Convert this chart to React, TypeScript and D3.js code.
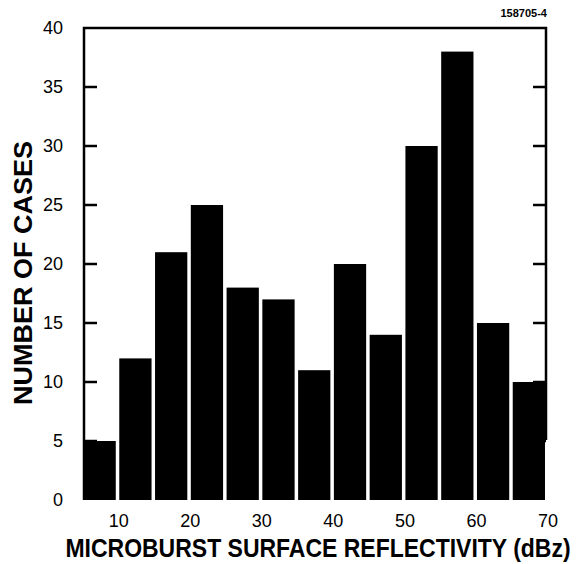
import React from "react";
import * as d3 from "d3";

const binStarts = [5, 10, 15, 20, 25, 30, 35, 40, 45, 50, 55, 60, 65];
const counts = [5, 12, 21, 25, 18, 17, 11, 20, 14, 30, 38, 15, 10];
const xTicks = [10, 20, 30, 40, 50, 60, 70];
const yTicks = [0, 5, 10, 15, 20, 25, 30, 35, 40];
const binWidth = 5;

const W = 580;
const H = 564;
const left = 84;
const right = 546;
const top = 28;
const bottom = 500;
const font = "'Liberation Sans', Arial, Helvetica, sans-serif";

export default function App() {
  const x = d3.scaleLinear().domain([5, 70]).range([83, 548]);
  const y = d3.scaleLinear().domain([0, 40]).range([bottom, top]);

  return (
    <svg
      width={W}
      height={H}
      style={{ position: "absolute", left: 0, top: 0, background: "#fff" }}
    >
      <rect x={0} y={0} width={W} height={H} fill="#fff" />
      {binStarts.map((b, i) => (
        <rect
          key={b}
          x={x(b) + 0.5}
          y={y(counts[i])}
          width={x(b + binWidth) - x(b) - 3.5}
          height={y(0) - y(counts[i])}
          fill="#000"
        />
      ))}
      {/* frame */}
      <path
        d={`M${left},${bottom} V${top} H${right} V${y(0) - 60}`}
        fill="none"
        stroke="#000"
        strokeWidth={2.5}
      />
      {yTicks.filter((t) => t > 0 && t < 40).map((t) => (
        <line key={"l" + t} x1={left} x2={left + 13} y1={y(t)} y2={y(t)} stroke="#000" strokeWidth={2.5} />
      ))}
      {yTicks.filter((t) => t > 0 && t < 40).map((t) => (
        <line key={"r" + t} x1={right} x2={right - 13} y1={y(t)} y2={y(t)} stroke="#000" strokeWidth={2.5} />
      ))}
      {yTicks.map((t) => (
        <text
          key={"yl" + t}
          x={63}
          y={y(t)}
          dy="0.36em"
          textAnchor="end"
          fontFamily={font}
          fontSize={18}
          fill="#000"
        >
          {t}
        </text>
      ))}
      {xTicks.map((t) => (
        <text
          key={"xl" + t}
          x={x(t)}
          y={527}
          textAnchor="middle"
          fontFamily={font}
          fontSize={18}
          fill="#000"
        >
          {t}
        </text>
      ))}
      <text
        transform="translate(318,557) scale(1,1.1)"
        textAnchor="middle"
        fontFamily={font}
        fontSize={23}
        fontWeight="bold"
        fill="#000"
      >
        MICROBURST SURFACE REFLECTIVITY (dBz)
      </text>
      <text
        transform={`translate(32,273) rotate(-90)`}
        textAnchor="middle"
        fontFamily={font}
        fontSize={26}
        fontWeight="bold"
        textLength={264}
        lengthAdjust="spacingAndGlyphs"
        fill="#000"
      >
        NUMBER OF CASES
      </text>
      <text
        x={547}
        y={17}
        textAnchor="end"
        fontFamily={font}
        fontSize={11}
        fontWeight="bold"
        fill="#000"
      >
        158705-4
      </text>
    </svg>
  );
}
